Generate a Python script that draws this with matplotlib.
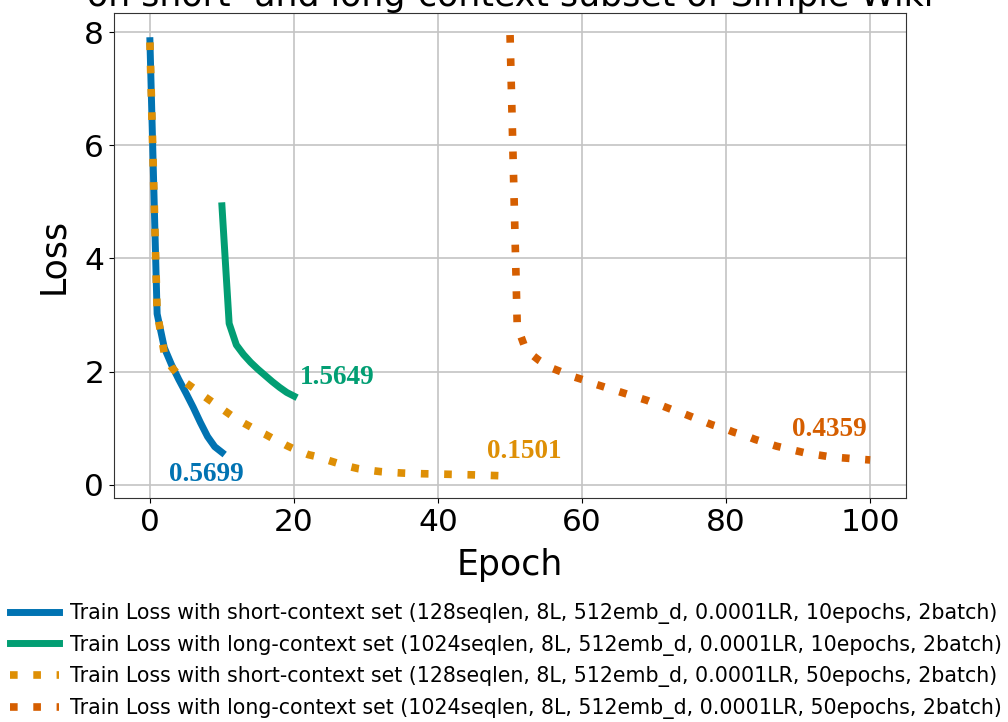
import matplotlib
matplotlib.use("Agg")
import matplotlib.pyplot as plt
import numpy as np

# 训练损失曲线（横轴为拼接后的 epoch 序号）
epochs_short_10 = np.arange(0, 11)
epochs_long_10 = np.arange(10, 21)
epochs_short_50 = np.arange(0, 51)
epochs_long_50 = np.arange(50, 101)

loss_short_10 = [7.85, 3.02, 2.42, 2.12, 1.86, 1.62, 1.37, 1.10, 0.85, 0.67, 0.5699]
loss_long_10 = [4.93, 2.85, 2.47, 2.30, 2.16, 2.04, 1.93, 1.82, 1.72, 1.63, 1.5649]
loss_short_50 = [7.82, 3.05, 2.32, 2.08, 1.93, 1.80, 1.71, 1.61, 1.52, 1.43,
                 1.34, 1.25, 1.16, 1.09, 1.02, 0.95, 0.89, 0.82, 0.76, 0.69,
                 0.63, 0.58, 0.53, 0.50, 0.46, 0.42, 0.38, 0.34, 0.31, 0.28,
                 0.26, 0.245, 0.23, 0.22, 0.212, 0.205, 0.200, 0.196, 0.192, 0.190,
                 0.187, 0.184, 0.181, 0.178, 0.175, 0.172, 0.168, 0.164, 0.160, 0.155,
                 0.1501]
loss_long_50 = [7.95, 2.80, 2.45, 2.30, 2.20, 2.12, 2.05, 2.00, 1.95, 1.90,
                1.86, 1.82, 1.77, 1.73, 1.69, 1.65, 1.61, 1.57, 1.53, 1.49,
                1.44, 1.40, 1.35, 1.30, 1.26, 1.21, 1.16, 1.11, 1.06, 1.02,
                0.98, 0.93, 0.89, 0.85, 0.80, 0.76, 0.72, 0.68, 0.65, 0.62,
                0.59, 0.56, 0.54, 0.52, 0.50, 0.49, 0.475, 0.465, 0.455, 0.445,
                0.4359]

labels = [
    'Train Loss with short-context set (128seqlen, 8L, 512emb_d, 0.0001LR, 10epochs, 2batch)',
    'Train Loss with long-context set (1024seqlen, 8L, 512emb_d, 0.0001LR, 10epochs, 2batch)',
    'Train Loss with short-context set (128seqlen, 8L, 512emb_d, 0.0001LR, 50epochs, 2batch)',
    'Train Loss with long-context set (1024seqlen, 8L, 512emb_d, 0.0001LR, 50epochs, 2batch)',
]
colors = ['#0173b2', '#029e73', '#de8f05', '#d55e00']

fig, ax = plt.subplots(figsize=(10.08, 7.22), dpi=100)
fig.subplots_adjust(left=0.113, right=0.899, top=0.982, bottom=0.310)

dot = (0, (1, 2.05))
l1, = ax.plot(epochs_short_10, loss_short_10, color=colors[0], lw=5, label=labels[0])
l2, = ax.plot(epochs_long_10, loss_long_10, color=colors[1], lw=5, label=labels[1])
l3, = ax.plot(epochs_short_50, loss_short_50, color=colors[2], lw=5.5, ls=dot, label=labels[2])
l4, = ax.plot(epochs_long_50, loss_long_50, color=colors[3], lw=5.5, ls=dot, label=labels[3])

# 末尾损失值标注
ann_font = dict(family='Liberation Serif', weight='bold', fontsize=19.5)
ax.annotate(f'{loss_short_10[-1]:.4f}', (epochs_short_10[-1], loss_short_10[-1]),
            xytext=(-16, -10), textcoords='offset pixels', ha='center', va='top',
            color=colors[0], **ann_font)
ax.annotate(f'{loss_long_10[-1]:.4f}', (epochs_long_10[-1], loss_long_10[-1]),
            xytext=(6, 6), textcoords='offset pixels', ha='left', va='bottom',
            color=colors[1], **ann_font)
ax.annotate(f'{loss_short_50[-1]:.4f}', (epochs_short_50[-1], loss_short_50[-1]),
            xytext=(14, 12), textcoords='offset pixels', ha='center', va='bottom',
            color=colors[2], **ann_font)
ax.annotate(f'{loss_long_50[-1]:.4f}', (epochs_long_50[-1], loss_long_50[-1]),
            xytext=(-3, 18), textcoords='offset pixels', ha='right', va='bottom',
            color=colors[3], **ann_font)

ax.set_title('on short- and long-context subset of Simple Wiki', fontsize=25, pad=5)
ax.set_xlabel('Epoch', fontsize=25, labelpad=8)
ax.set_ylabel('Loss', fontsize=25, labelpad=10)
ax.tick_params(labelsize=22.5)
ax.set_xticks([0, 20, 40, 60, 80, 100])
ax.set_yticks([0, 2, 4, 6, 8])
ax.grid(True, color='#c4c4c4', lw=1.2)
ax.set_axisbelow(True)
for sp in ax.spines.values():
    sp.set_color('#333333')

fig.legend(handles=[l1, l2, l3, l4], loc='upper left',
           bbox_to_anchor=(10 / 1008, 1 - 603 / 722), frameon=False,
           fontsize=14.8, handlelength=2.4, handletextpad=0.5,
           labelspacing=0.52, borderpad=0, borderaxespad=0)

plt.savefig('out.png', dpi=100)
